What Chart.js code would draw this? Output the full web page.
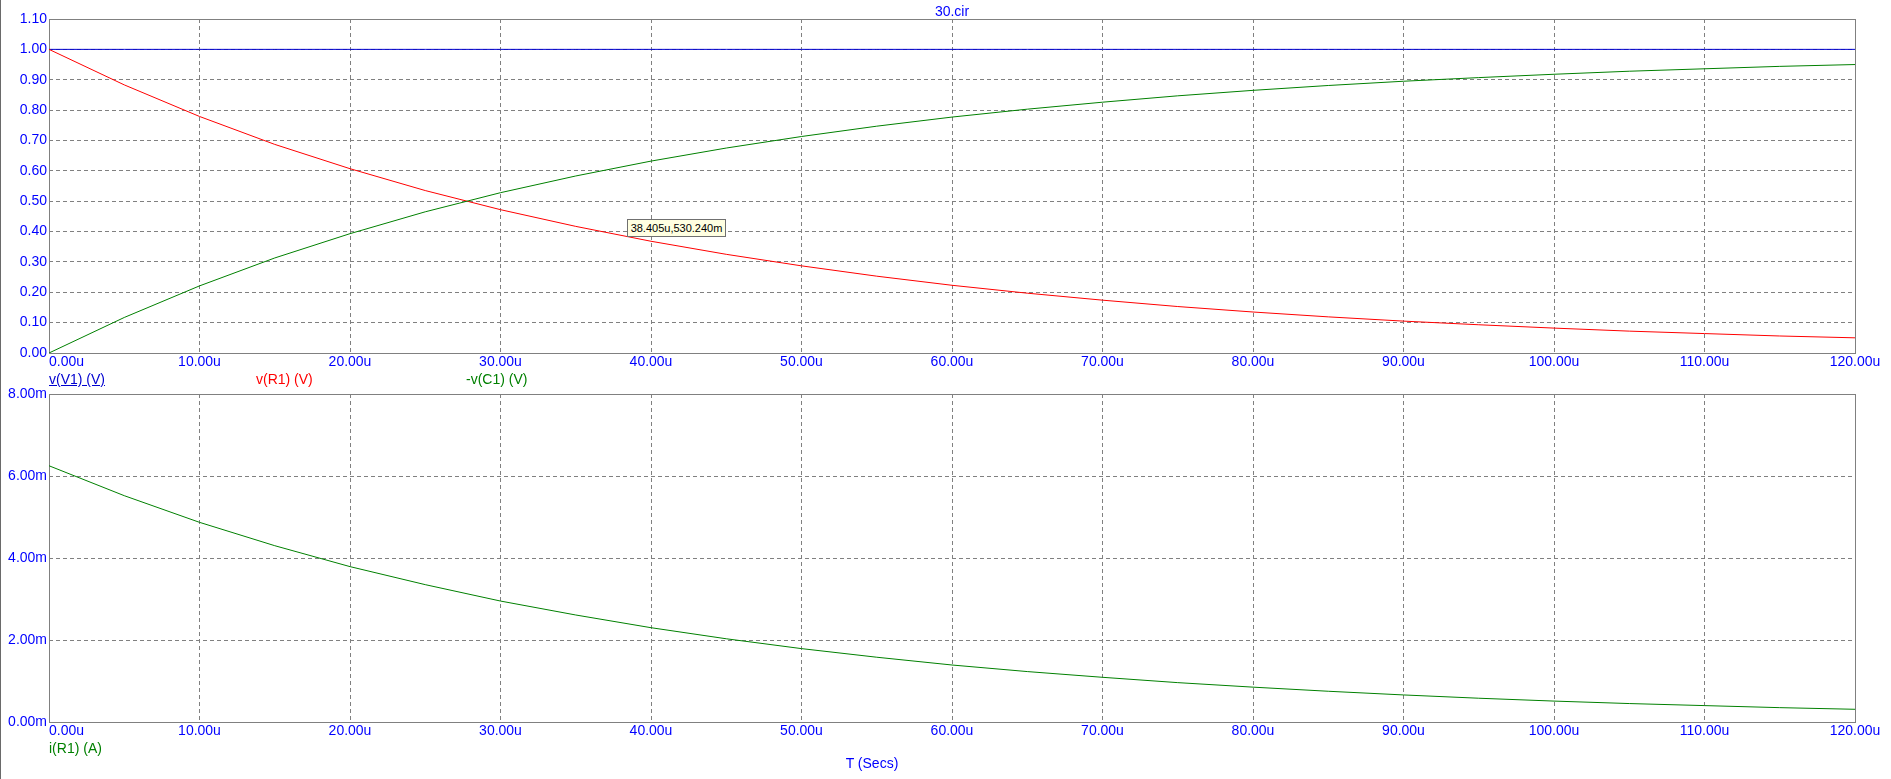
<!DOCTYPE html>
<html>
<head>
<meta charset="utf-8">
<script src="https://cdn.jsdelivr.net/npm/chart.js@4.4.1/dist/chart.umd.min.js"></script>
<style>
  html, body { margin:0; padding:0; background:#ffffff; width:1891px; height:779px; overflow:hidden; }
  body { position:relative; font-family:'Liberation Sans', Arial, sans-serif; }
  canvas { position:absolute; left:0; }
  #c1 { top:0; }
  #c2 { top:380px; }
  .txt { position:absolute; font-size:14px; line-height:16px; white-space:nowrap; }
  #winborder { position:absolute; left:0; top:0; width:1px; height:779px; background:#6a6a6a; }
  #cursor { position:absolute; left:627px; top:219px; width:97px; height:16px; border:1px solid #707070;
            background:#ffffe1; color:#000; font-size:11px; line-height:16px; text-align:center; }
</style>
</head>
<body>
<div id="winborder"></div>
<canvas id="c1" width="1891" height="395"></canvas>
<canvas id="c2" width="1891" height="399"></canvas>
<div class="txt" style="left:952px; top:3px; transform:translateX(-50%); color:#0000ff;">30.cir</div>
<div class="txt" style="left:49px; top:371px; color:#0000d0; text-decoration:underline;">v(V1) (V)</div>
<div class="txt" style="left:256px; top:371px; color:#ff0000;">v(R1) (V)</div>
<div class="txt" style="left:466px; top:371px; color:#008000;">-v(C1) (V)</div>
<div class="txt" style="left:49px; top:740px; color:#008000;">i(R1) (A)</div>
<div class="txt" style="left:872px; top:755px; transform:translateX(-50%); color:#0000ff;">T (Secs)</div>
<div id="cursor">38.405u,530.240m</div>
<script>
// ---- data (time in microseconds) ----
const timeUs = [0,5,10,15,20,25,30,35,40,45,50,55,60,65,70,75,80,85,90,95,100,105,110,115,120];
const vV1 = [1.000,1.000,1.000,1.000,1.000,1.000,1.000,1.000,1.000,1.000,1.000,1.000,1.000,1.000,1.000,1.000,1.000,1.000,1.000,1.000,1.000,1.000,1.000,1.000,1.000];
const vR1 = [1.000,0.883,0.779,0.687,0.607,0.535,0.472,0.417,0.368,0.325,0.287,0.253,0.223,0.197,0.174,0.153,0.135,0.119,0.105,0.093,0.082,0.072,0.064,0.056,0.050];
const vC1neg = [0.000,0.117,0.221,0.313,0.393,0.465,0.528,0.583,0.632,0.675,0.713,0.747,0.777,0.803,0.826,0.847,0.865,0.881,0.895,0.907,0.918,0.928,0.936,0.944,0.950];
const iR1mA = [6.25,5.52,4.87,4.30,3.79,3.35,2.95,2.61,2.30,2.03,1.79,1.58,1.39,1.23,1.09,0.96,0.85,0.75,0.66,0.58,0.51,0.45,0.40,0.35,0.31];
const xTickStep = 10, xMin = 0, xMax = 120;
const vTickStep = 0.1, vMin = 0, vMax = 1.1;
const iTickStep = 2, iMin = 0, iMax = 8;

const FONT = "'Liberation Sans', Arial, sans-serif";
const TICK_COLOR = '#0000ff';
const GRID = '#808080';
const DASH = [4,3];

function pts(ys){ return timeUs.map((t,i)=>({x:t, y:ys[i]})); }

const framePlugin = {
  id:'frame',
  beforeDraw(chart){
    const s = chart.scales.x;
    try {
      const items = s.getLabelItems();
      if (items && items[0]) items[0].options.textAlign = 'left';
    } catch(e) {}
  },
  beforeDatasetsDraw(chart){
    const a = chart.chartArea, ctx = chart.ctx;
    ctx.save();
    ctx.strokeStyle = GRID; ctx.lineWidth = 1; ctx.setLineDash([]);
    ctx.strokeRect(Math.round(a.left)+0.5, Math.round(a.top)+0.5,
                   Math.round(a.right)-Math.round(a.left), Math.round(a.bottom)-Math.round(a.top));
    ctx.restore();
  }
};

function xScale(h){
  return {
    type:'linear', min:xMin, max:xMax,
    afterFit(s){ s.height = h; s.paddingLeft = 0; s.paddingRight = 0; },
    border:{display:false, dash:DASH},
    grid:{color:GRID, lineWidth:1, drawTicks:false},
    ticks:{stepSize:xTickStep, autoSkip:false, maxRotation:0, minRotation:0, padding:1,
           color:TICK_COLOR, font:{family:FONT, size:14},
           callback:(v)=> v.toFixed(2)+'u'}
  };
}
function yScale(min,max,step,fmt){
  return {
    type:'linear', min:min, max:max,
    afterFit(s){ s.width = 49; },
    border:{display:false, dash:DASH},
    grid:{color:GRID, lineWidth:1, drawTicks:false},
    ticks:{stepSize:step, autoSkip:false, padding:2, color:TICK_COLOR,
           font:{family:FONT, size:14}, callback:fmt}
  };
}
const common = {
  responsive:false, devicePixelRatio:1, animation:false,
  plugins:{legend:{display:false}, tooltip:{enabled:false}, title:{display:false}},
  elements:{point:{radius:0}, line:{borderWidth:1, tension:0}}
};

const cfg1 = {
  type:'line',
  data:{datasets:[
    {label:'-v(C1) (V)', data:pts(vC1neg), borderColor:'#008000', borderWidth:1, pointRadius:0, fill:false},
    {label:'v(R1) (V)', data:pts(vR1), borderColor:'#ff0000', borderWidth:1, pointRadius:0, fill:false},
    {label:'v(V1) (V)', data:pts(vV1), borderColor:'#0000d0', borderWidth:1, pointRadius:0, fill:false}
  ]},
  options:Object.assign({}, common, {
    layout:{padding:{left:0, right:36, top:19, bottom:0}},
    scales:{ x:xScale(42), y:yScale(vMin,vMax,vTickStep,(v)=>Number(v).toFixed(2)) }
  }),
  plugins:[framePlugin]
};
const cfg2 = {
  type:'line',
  data:{datasets:[
    {label:'i(R1) (A)', data:pts(iR1mA), borderColor:'#008000', borderWidth:1, pointRadius:0, fill:false}
  ]},
  options:Object.assign({}, common, {
    layout:{padding:{left:0, right:36, top:14, bottom:0}},
    scales:{ x:xScale(57), y:yScale(iMin,iMax,iTickStep,(v)=>Number(v).toFixed(2)+'m') }
  }),
  plugins:[framePlugin]
};
new Chart(document.getElementById('c1'), cfg1);
new Chart(document.getElementById('c2'), cfg2);
</script>
</body>
</html>
